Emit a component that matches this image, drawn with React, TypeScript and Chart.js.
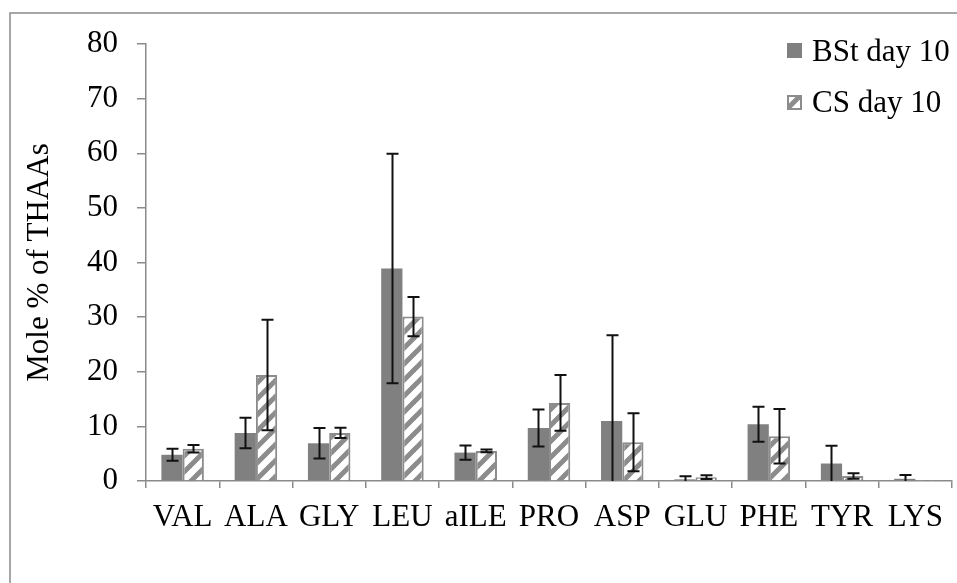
import React, { useEffect, useRef } from "react";
import { Chart, registerables } from "chart.js";

Chart.register(...registerables);

const categories = ["VAL", "ALA", "GLY", "LEU", "aILE", "PRO", "ASP", "GLU", "PHE", "TYR", "LYS"];
const bstLabel = "BSt day 10";
const csLabel = "CS day 10";
const bstValues = [4.8, 8.8, 6.9, 38.9, 5.2, 9.7, 11.0, 0.3, 10.4, 3.2, 0.4];
const bstErrors = [1.1, 2.8, 2.8, 21.0, 1.3, 3.4, 15.7, 0.55, 3.2, 3.25, 0.7];
const csValues = [5.9, 19.4, 8.8, 30.1, 5.5, 14.3, 7.1, 0.7, 8.2, 0.9, 0.2];
const csErrors = [0.7, 10.1, 0.95, 3.6, 0.25, 5.1, 5.3, 0.35, 5.0, 0.5, 0];
const yTitle = "Mole % of THAAs";
const yMin = 0;
const yMax = 80;
const yStep = 10;

const FONT = "'Liberation Serif', 'Times New Roman', serif";
const FS = 31;
const GRAY = "#808080";
const AXIS = "#8a8a8a";

function makeHatch(ctx: CanvasRenderingContext2D): CanvasPattern | string {
  const s = 16;
  const c = document.createElement("canvas");
  c.width = s;
  c.height = s;
  const g = c.getContext("2d");
  if (!g) return "#fff";
  g.fillStyle = "#ffffff";
  g.fillRect(0, 0, s, s);
  g.strokeStyle = "#8c8c8c";
  g.lineWidth = 5;
  g.lineCap = "square";
  for (const off of [-s, 0, s]) {
    g.beginPath();
    g.moveTo(off, s);
    g.lineTo(off + s, 0);
    g.stroke();
  }
  return ctx.createPattern(c, "repeat") || "#fff";
}

export default function App() {
  const ref = useRef<HTMLCanvasElement | null>(null);

  useEffect(() => {
    const canvas = ref.current;
    if (!canvas) return;
    const ctx = canvas.getContext("2d");
    if (!ctx) return;
    const hatch = makeHatch(ctx);
    const errorSets = [bstErrors, csErrors];

    const errorBars = {
      id: "errorBars",
      afterDatasetsDraw(chart: any) {
        const c = chart.ctx;
        const area = chart.chartArea;
        const ys = chart.scales.y;
        c.save();
        c.beginPath();
        c.rect(area.left, area.top - 20, area.right - area.left, area.bottom - area.top + 20);
        c.clip();
        c.strokeStyle = "#111";
        c.lineWidth = 2;
        chart.data.datasets.forEach((ds: any, di: number) => {
          const meta = chart.getDatasetMeta(di);
          meta.data.forEach((el: any, i: number) => {
            const err = errorSets[di][i];
            if (!err) return;
            const v = ds.data[i];
            const x = Math.round(el.x) + 0.5;
            const yt = ys.getPixelForValue(v + err);
            const yb = ys.getPixelForValue(v - err);
            const cap = 6;
            c.beginPath();
            c.moveTo(x, yt);
            c.lineTo(x, yb);
            c.moveTo(x - cap, yt);
            c.lineTo(x + cap, yt);
            if (v - err > yMin) {
              c.moveTo(x - cap, yb);
              c.lineTo(x + cap, yb);
            }
            c.stroke();
          });
        });
        c.restore();
      },
    };

    const decor = {
      id: "decor",
      afterDraw(chart: any) {
        const c = chart.ctx;
        c.save();
        // outer frame
        c.strokeStyle = AXIS;
        c.lineWidth = 1.5;
        c.beginPath();
        c.moveTo(10, 600);
        c.lineTo(10, 13);
        c.lineTo(970, 13);
        c.stroke();
        // legend
        c.font = `${FS}px ${FONT}`;
        c.textBaseline = "alphabetic";
        c.textAlign = "left";
        c.fillStyle = GRAY;
        c.fillRect(787, 43, 15, 15);
        c.fillStyle = "#000";
        c.fillText(chart.data.datasets[0].label, 812, 61);
        c.fillStyle = hatch;
        c.fillRect(788, 96, 13, 13);
        c.strokeStyle = "#8c8c8c";
        c.lineWidth = 2;
        c.strokeRect(788, 96, 13, 13);
        c.fillStyle = "#000";
        c.fillText(chart.data.datasets[1].label, 812, 112);
        c.restore();
      },
    };

    const chart = new Chart(canvas, {
      type: "bar",
      data: {
        labels: categories,
        datasets: [
          {
            label: bstLabel,
            data: bstValues,
            backgroundColor: GRAY,
            borderWidth: 0,
            categoryPercentage: 0.58,
            barPercentage: 1.0,
          },
          {
            label: csLabel,
            data: csValues,
            backgroundColor: hatch as any,
            borderColor: "#8c8c8c",
            borderWidth: 2,
            categoryPercentage: 0.58,
            barPercentage: 1.0,
          },
        ],
      },
      options: {
        animation: false,
        responsive: false,
        devicePixelRatio: 1,
        layout: { padding: { left: 21, top: 44, right: 5, bottom: 0 } },
        plugins: {
          legend: { display: false },
          tooltip: { enabled: false },
        },
        scales: {
          x: {
            afterFit: (s: any) => {
              s.height = 102;
            },
            grid: {
              drawOnChartArea: false,
              drawTicks: true,
              tickLength: 7,
              color: AXIS,
              lineWidth: 1.5,
            },
            border: { color: AXIS, width: 1.5 },
            ticks: {
              color: "#000",
              font: { family: FONT, size: FS },
              padding: 11,
              maxRotation: 0,
              autoSkip: false,
            },
          },
          y: {
            min: yMin,
            max: yMax,
            afterFit: (s: any) => {
              s.width = 146 - 21;
            },
            grid: {
              drawOnChartArea: false,
              drawTicks: true,
              tickLength: 9,
              color: AXIS,
              lineWidth: 1.5,
            },
            border: { color: AXIS, width: 1.5 },
            ticks: {
              stepSize: yStep,
              color: "#000",
              font: { family: FONT, size: FS },
              padding: 19,
            },
            title: {
              display: true,
              text: yTitle,
              color: "#000",
              font: { family: FONT, size: FS },
              padding: 0,
            },
          },
        },
      },
      plugins: [errorBars, decor],
    });
    return () => chart.destroy();
  }, []);

  return (
    <div style={{ position: "fixed", left: 0, top: 0, width: 957, height: 583, background: "#fff" }}>
      <canvas ref={ref} width={957} height={583} style={{ display: "block" }} />
    </div>
  );
}
